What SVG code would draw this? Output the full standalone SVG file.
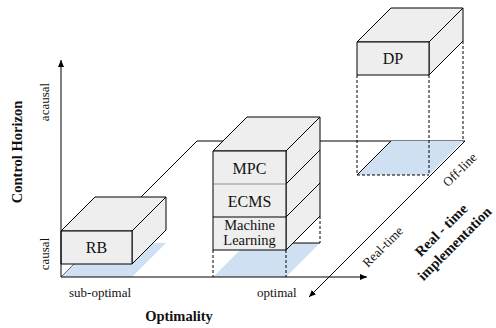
<svg xmlns="http://www.w3.org/2000/svg" width="496" height="328" viewBox="0 0 496 328">
  <defs>
    <marker id="arrow" markerUnits="userSpaceOnUse" markerWidth="8" markerHeight="6" refX="7" refY="3" orient="auto">
      <path d="M0,0 L7,3 L0,6 Z" fill="#000"/>
    </marker>
    <style>
      .face { fill: #eeeeee; stroke: #000; stroke-width: 1; stroke-linejoin: round; }
      .floor { fill: #cfe0f2; stroke: none; }
      .edge { fill: none; stroke: #000; stroke-width: 1; }
      .thin { fill: none; stroke: #777; stroke-width: 0.8; }
      .dash { fill: none; stroke: #000; stroke-width: 1; stroke-dasharray: 3 2; }
      .axis { fill: none; stroke: #000; stroke-width: 1; }
      .lbl { font-family: "Liberation Serif", "Times New Roman", serif; font-size: 13px; fill: #111; }
      .box { font-family: "Liberation Serif", "Times New Roman", serif; font-size: 16px; fill: #111; text-anchor: middle; }
      .title { font-family: "Liberation Serif", "Times New Roman", serif; font-size: 14.5px; font-weight: bold; fill: #111; text-anchor: middle; }
    </style>
  </defs>

  <rect width="496" height="328" fill="#fff"/>

  <!-- floor plane outline and depth axis -->
  <g id="connectors">
    <path class="edge" d="M61,277 L197,141 L465,141"/>
    <line class="axis" x1="465" y1="141" x2="309" y2="297" marker-end="url(#arrow)"/>
  </g>

  <!-- DP: off-line, optimal, acausal -->
  <g id="node-dp">
    <polygon class="floor" points="357,175 429,175 463,141 391,141"/>
    <line class="edge" x1="357" y1="175" x2="391" y2="141"/>
    <line class="dash" x1="357" y1="175" x2="429" y2="175"/>
    <line class="dash" x1="357" y1="75" x2="357" y2="175"/>
    <line class="dash" x1="429" y1="75" x2="429" y2="175"/>
    <line class="dash" x1="463" y1="41" x2="463" y2="141"/>
    <polygon class="face" points="357,42 429,42 463,8 391,8"/>
    <polygon class="face" points="429,42 463,8 463,41 429,75"/>
    <rect class="face" x="357" y="42" width="72" height="33"/>
    <text class="box" x="393" y="64">DP</text>
  </g>

  <!-- stacked real-time strategies near the optimum -->
  <g id="node-stack">
    <polygon class="floor" points="213,277 286,277 320,243 247,243"/>
    <line class="dash" x1="213" y1="250" x2="213" y2="277"/>
    <line class="dash" x1="286" y1="250" x2="286" y2="277"/>
    <line class="dash" x1="320" y1="216" x2="320" y2="243"/>
    <line class="edge" x1="286" y1="243" x2="320" y2="243"/>
    <polygon class="face" points="213,151 286,151 320,117 247,117"/>
    <polygon class="face" points="286,151 320,117 320,216 286,250"/>
    <line class="edge" x1="286" y1="184" x2="320" y2="150"/>
    <line class="edge" x1="286" y1="217" x2="320" y2="183"/>
    <rect class="face" x="213" y="151" width="73" height="99"/>
    <g id="node-mpc">
      <text class="box" x="249.5" y="174">MPC</text>
    </g>
    <line class="thin" x1="213" y1="184" x2="286" y2="184"/>
    <g id="node-ecms">
      <text class="box" x="249.5" y="207">ECMS</text>
    </g>
    <line class="edge" x1="213" y1="217" x2="286" y2="217"/>
    <g id="node-ml">
      <text class="box" x="249.5" y="230" style="font-size:14.5px">Machine</text>
      <text class="box" x="249.5" y="245" style="font-size:14.5px">Learning</text>
    </g>
  </g>

  <!-- RB: causal, sub-optimal -->
  <g id="node-rb">
    <polygon class="floor" points="61,277 132,277 166,243 95,243"/>
    <polygon class="face" points="61,231 132,231 166,197 95,197"/>
    <polygon class="face" points="132,231 166,197 166,230 132,264"/>
    <rect class="face" x="61" y="231" width="71" height="33"/>
    <text class="box" x="96.5" y="253">RB</text>
  </g>

  <!-- main axes -->
  <g id="axes">
    <line class="axis" x1="61" y1="277" x2="61" y2="60" marker-end="url(#arrow)"/>
    <line class="axis" x1="61" y1="277" x2="367" y2="277" marker-end="url(#arrow)"/>
  </g>

  <!-- axis labels -->
  <g id="labels">
    <text class="title" transform="translate(21.5,152) rotate(-90)">Control  Horizon</text>
    <text class="lbl" text-anchor="middle" transform="translate(49,102) rotate(-90)">acausal</text>
    <text class="lbl" text-anchor="middle" transform="translate(49,254) rotate(-90)">causal</text>
    <text class="lbl" x="69" y="297">sub-optimal</text>
    <text class="lbl" x="257" y="297">optimal</text>
    <text class="title" x="179" y="321">Optimality</text>
    <text class="lbl" text-anchor="middle" transform="translate(383,247) rotate(-45)" y="4">Real-time</text>
    <text class="lbl" text-anchor="middle" transform="translate(460,170) rotate(-45)" y="4">Off-line</text>
    <g transform="translate(441,230) rotate(-45)">
      <text class="title" x="0" y="5">Real - time</text>
      <text class="title" x="0" y="24">implementation</text>
    </g>
  </g>
</svg>
